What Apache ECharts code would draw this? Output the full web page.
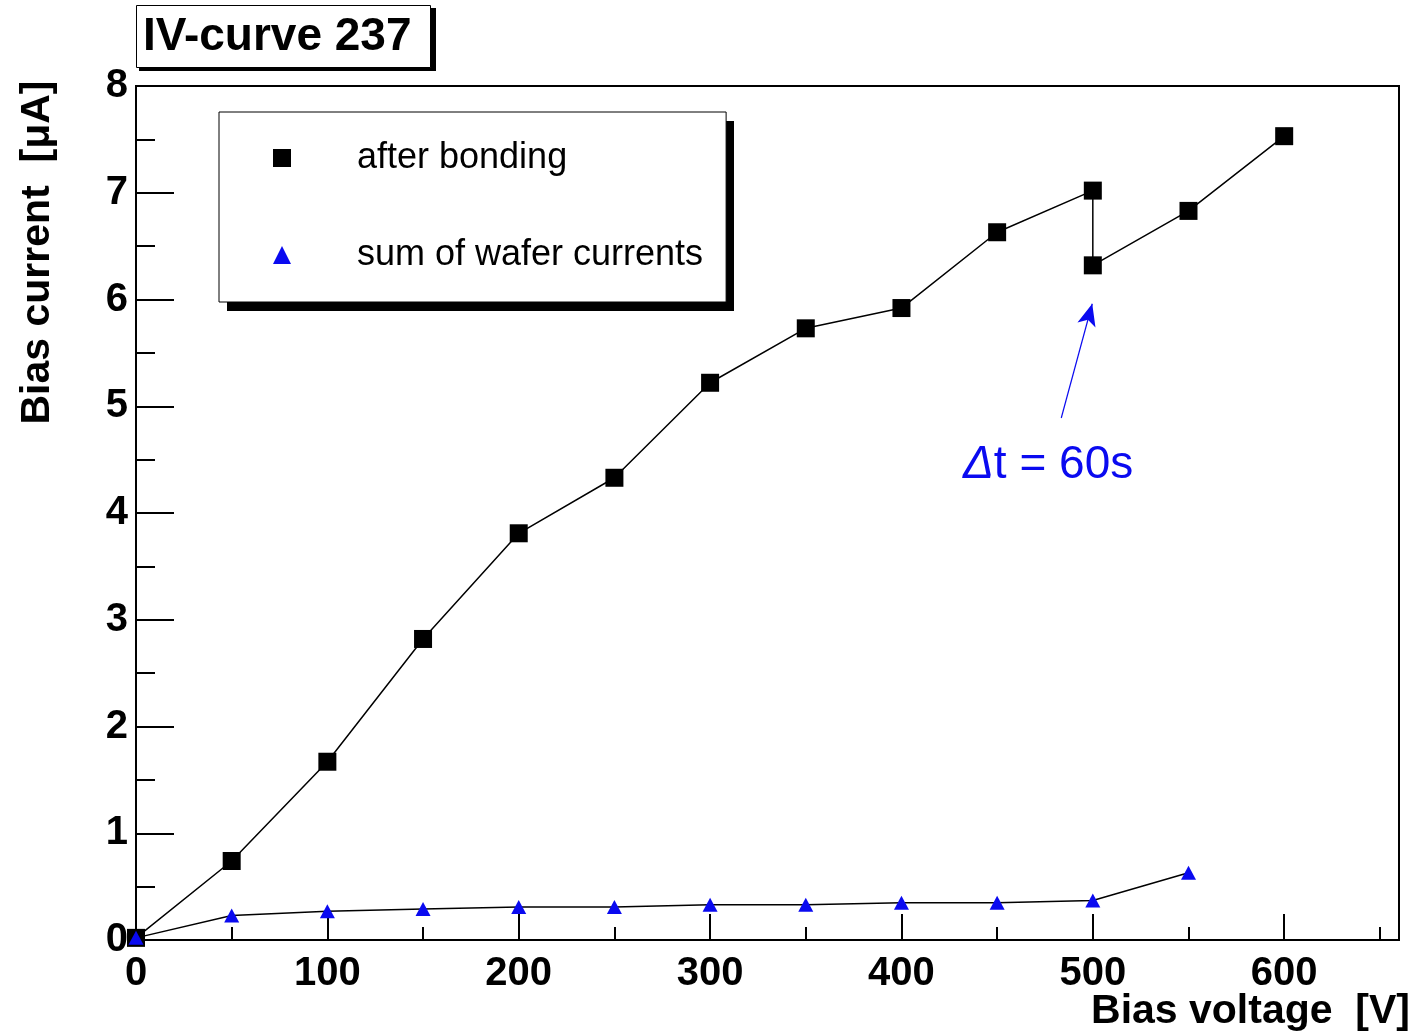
<!DOCTYPE html>
<html>
<head>
<meta charset="utf-8">
<script src="https://cdn.jsdelivr.net/npm/echarts@6/dist/echarts.min.js"></script>
<style>
html,body{margin:0;padding:0;background:#fff;}
#c{width:1417px;height:1036px;}
</style>
</head>
<body>
<div id="c"></div>
<script>
// ---- data ----
const titleText = 'IV-curve 237';
const seriesNames = ['after bonding', 'sum of wafer currents'];
const afterBonding = [
  [0, 0.02], [50, 0.74], [100, 1.67], [150, 2.82], [200, 3.81], [250, 4.33],
  [300, 5.22], [350, 5.73], [400, 5.92], [450, 6.63], [500, 7.02], [500, 6.32],
  [550, 6.83], [600, 7.53]
];
const waferSum = [
  [0, 0.02], [50, 0.23], [100, 0.27], [150, 0.29], [200, 0.31], [250, 0.31],
  [300, 0.33], [350, 0.33], [400, 0.35], [450, 0.35], [500, 0.37], [550, 0.63]
];
const xRange = [0, 660];
const yRange = [0, 8];
const arrowFrom = [483.5, 4.89];
const arrowTo = [499.7, 5.96];
const annotationText = 't = 60s';
const xName = 'Bias voltage  [V]';
const yName = 'Bias current  [\u03BCA]';

const FONT = '"Liberation Sans", Arial, Helvetica, sans-serif';
const BLUE = '#0a0af0';

const chart = echarts.init(document.getElementById('c'), null, {renderer: 'canvas'});
chart.setOption({
  animation: false,
  backgroundColor: '#fff',
  textStyle: {fontFamily: FONT},
  title: {
    text: titleText,
    left: 136, top: 5,
    z: 10,
    padding: [7, 19, 6, 7],
    backgroundColor: '#fff',
    borderColor: '#000', borderWidth: 1,
    textStyle: {fontFamily: FONT, fontWeight: 'bold', fontSize: 46, lineHeight: 50, color: '#000'}
  },
  legend: {
    orient: 'vertical',
    left: 219, top: 112,
    z: 10,
    padding: [26, 23, 27, 54],
    itemGap: 57,
    itemWidth: 18, itemHeight: 18,
    backgroundColor: '#fff',
    borderColor: '#000', borderWidth: 1,
    selectedMode: false,
    textStyle: {fontFamily: FONT, fontSize: 36, lineHeight: 40, color: '#000', padding: [0, 0, 0, 61]},
    data: [
      {name: seriesNames[0], icon: 'rect', itemStyle: {color: '#000'}},
      {name: seriesNames[1], icon: 'triangle', itemStyle: {color: BLUE}}
    ]
  },
  grid: {
    left: 136, right: 18, top: 86, bottom: 96,
    outerBoundsMode: 'none',
    containLabel: false,
    show: true, borderColor: '#000', borderWidth: 2, backgroundColor: 'transparent'
  },
  xAxis: [{
    type: 'value', min: xRange[0], max: xRange[1], interval: 100,
    axisLine: {show: true, lineStyle: {color: '#000', width: 2}},
    axisTick: {show: true, inside: true, length: 26, lineStyle: {color: '#000', width: 2}},
    axisLabel: {show: true, showMaxLabel: false, margin: 14, fontFamily: FONT, fontWeight: 'bold', fontSize: 40, color: '#000'},
    splitLine: {show: false}
  }, {
    type: 'value', min: xRange[0], max: xRange[1], interval: 50, position: 'bottom',
    axisLine: {show: false},
    axisTick: {show: true, inside: true, length: 13, lineStyle: {color: '#000', width: 2}},
    axisLabel: {show: false},
    splitLine: {show: false}
  }],
  yAxis: {
    type: 'value', min: yRange[0], max: yRange[1], interval: 1,
    name: yName, nameLocation: 'middle', nameRotate: 90, nameGap: 78,
    nameTextStyle: {fontFamily: FONT, fontWeight: 'bold', fontSize: 41, color: '#000', padding: [0, 0, 0, 521]},
    axisLine: {show: true, lineStyle: {color: '#000', width: 2}},
    axisTick: {show: true, inside: true, length: 38, lineStyle: {color: '#000', width: 2}},
    minorTick: {show: true, splitNumber: 2, length: 19, lineStyle: {color: '#000', width: 2}},
    axisLabel: {show: true, margin: 8, fontFamily: FONT, fontWeight: 'bold', fontSize: 40, color: '#000'},
    splitLine: {show: false},
    minorSplitLine: {show: false}
  },
  series: [{
    name: seriesNames[0], type: 'line', xAxisIndex: 0,
    data: afterBonding,
    symbol: 'rect', symbolSize: 18,
    itemStyle: {color: '#000'},
    lineStyle: {color: '#000', width: 1.5},
    markLine: {
      silent: true,
      symbol: ['none', 'arrow'], symbolSize: [14, 22],
      lineStyle: {color: BLUE, width: 1.2, type: 'solid'},
      label: {show: false},
      data: [[{coord: arrowFrom}, {coord: arrowTo}]]
    }
  }, {
    name: seriesNames[1], type: 'line', xAxisIndex: 0,
    data: waferSum,
    symbol: 'triangle', symbolSize: [15, 14],
    itemStyle: {color: BLUE},
    lineStyle: {color: '#000', width: 1.5}
  }],
  graphic: [{
    // title box drop shadow
    type: 'rect', z: 5,
    shape: {x: 139, y: 8, width: 297, height: 63},
    style: {fill: '#000'}
  }, {
    // legend box drop shadow
    type: 'rect', z: 5,
    shape: {x: 227, y: 121, width: 507, height: 190},
    style: {fill: '#000'}
  }, {
    // x-axis title
    type: 'text', right: 7, top: 991, z: 10,
    style: {text: xName, fill: '#000', fontFamily: FONT, fontWeight: 'bold', fontSize: 41}
  }, {
    type: 'text', left: 963, top: 442, z: 10,
    style: {
      text: '{d|\u0394}' + annotationText,
      fill: BLUE, fontFamily: FONT, fontSize: 46,
      rich: {d: {fontStyle: 'italic', fontSize: 46, fill: BLUE, fontFamily: FONT}}
    }
  }]
});
</script>
</body>
</html>
